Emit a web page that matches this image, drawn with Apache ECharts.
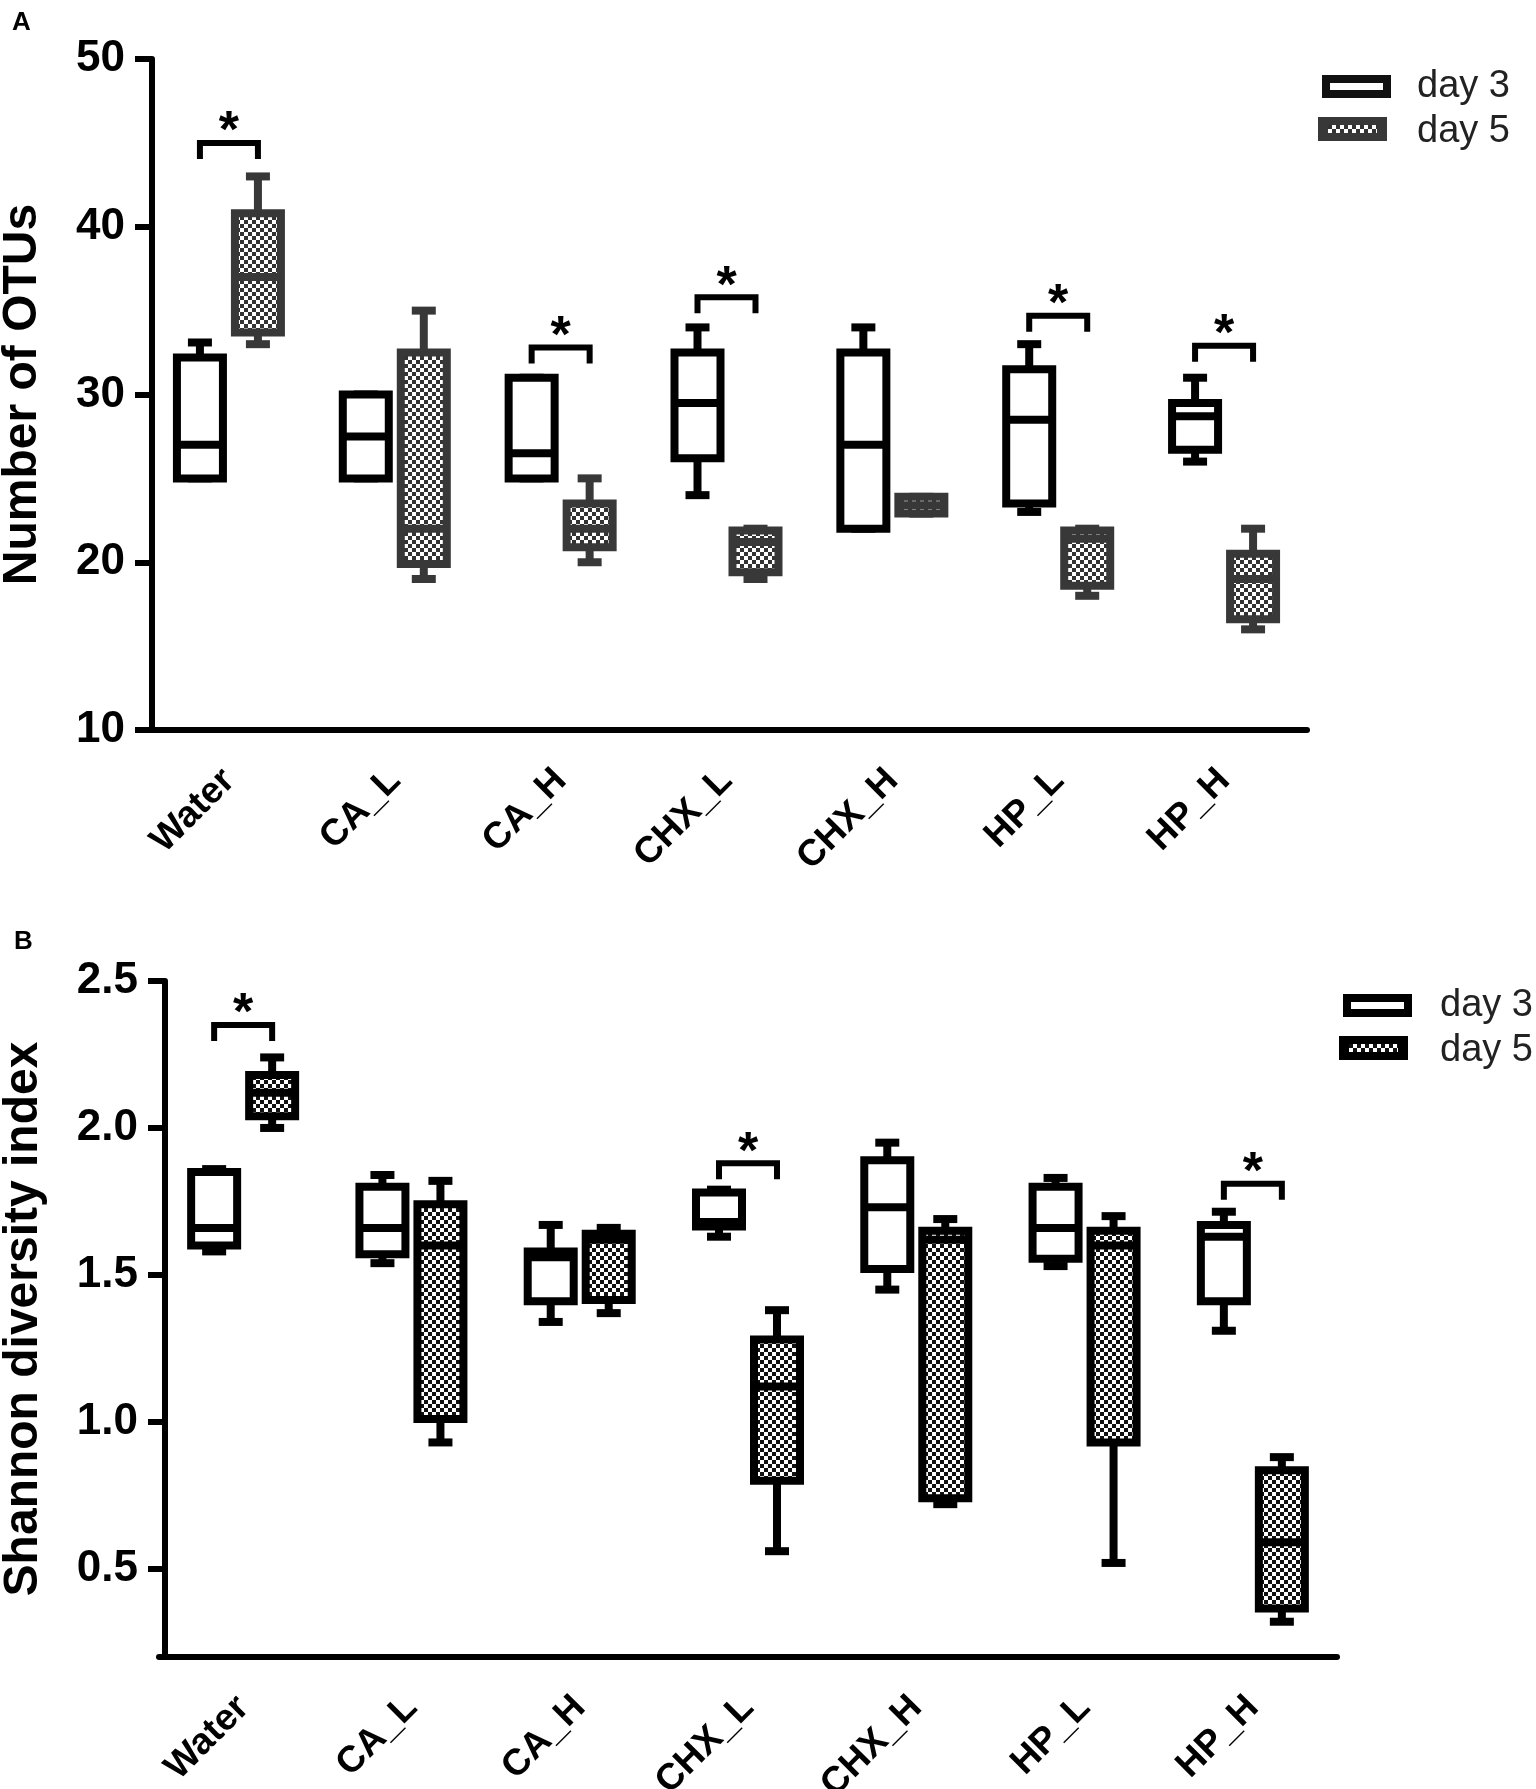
<!DOCTYPE html>
<html>
<head>
    <meta charset="UTF-8">
    <title>OTUs and Shannon index</title>
    <script type="text/javascript" src="https://cdn.jsdelivr.net/npm/echarts@6/dist/echarts.min.js"></script>
    <style>
        body { margin: 0; background: #fff; }
    </style>
</head>
<body>
<div id="main" style="width: 1536px;height:1789px;"></div>
<script type="text/javascript">
    // groups on the x axis
    var cats = ['Water', 'CA_L', 'CA_H', 'CHX_L', 'CHX_H', 'HP_L', 'HP_H'];

    // panel A, number of OTUs: [min, Q1, median, Q3, max]
    var otuDay3 = [
        [25, 25, 27, 32.2, 33.1],
        [25, 25, 27.5, 30, 30],
        [25, 25, 26.5, 31, 31],
        [24, 26.2, 29.5, 32.5, 34],
        [22, 22, 27, 32.5, 34],
        [23, 23.5, 28.5, 31.5, 33],
        [26, 26.7, 28.7, 29.5, 31]
    ];
    var otuDay5 = [
        [33, 33.7, 37, 40.8, 43],
        [19, 19.9, 22, 32.5, 35],
        [20, 20.9, 22, 23.5, 25],
        [19, 19.4, 21.2, 21.9, 22],
        [22.9, 22.9, 23.4, 23.9, 23.9],
        [18, 18.6, 21.4, 21.9, 22],
        [16, 16.6, 19, 20.5, 22]
    ];
    // significance brackets A: [group index, height]
    var otuSig = [[0, 45], [2, 32.8], [3, 35.8], [5, 34.7], [6, 32.9]];
    var otuTicks = [10, 20, 30, 40, 50];

    // panel B, Shannon diversity index
    var shDay3 = [
        [1.58, 1.6, 1.66, 1.85, 1.86],
        [1.54, 1.57, 1.66, 1.80, 1.84],
        [1.34, 1.41, 1.56, 1.58, 1.67],
        [1.63, 1.665, 1.68, 1.78, 1.79],
        [1.45, 1.52, 1.73, 1.89, 1.95],
        [1.53, 1.555, 1.66, 1.80, 1.83],
        [1.31, 1.41, 1.63, 1.67, 1.715]
    ];
    var shDay5 = [
        [2.0, 2.04, 2.12, 2.18, 2.24],
        [0.93, 1.01, 1.60, 1.74, 1.82],
        [1.37, 1.415, 1.62, 1.64, 1.66],
        [0.56, 0.8, 1.12, 1.28, 1.38],
        [0.72, 0.74, 1.62, 1.65, 1.69],
        [0.52, 0.93, 1.6, 1.65, 1.7],
        [0.32, 0.365, 0.59, 0.835, 0.88]
    ];
    var shSig = [[0, 2.35], [3, 1.88], [6, 1.81]];
    var shTicks = [0.5, 1.0, 1.5, 2.0, 2.5];

    var FONT = '"Liberation Sans", Arial, Helvetica, sans-serif';

    // checker fill used for day 5
    function checker(dark) {
        var c = document.createElement('canvas');
        c.width = 8;
        c.height = 8;
        var g = c.getContext('2d');
        g.fillStyle = '#fff';
        g.fillRect(0, 0, 8, 8);
        g.fillStyle = dark;
        g.fillRect(0, 0, 4, 4);
        g.fillRect(4, 4, 4, 4);
        return {image: c, repeat: 'repeat'};
    }
    var checkGrey = checker('#333');
    var checkBlack = checker('#111');

    function withIndex(rows) {
        return rows.map(function (r, i) { return [i].concat(r); });
    }

    // box + whiskers drawn on the axes
    function boxRender(off, stroke, fill) {
        return function (params, api) {
            var c = api.value(0);
            var y = function (d) { return api.coord([c, api.value(d)])[1]; };
            var cx = api.coord([c, api.value(3)])[0] + off;
            var hw = 23, cap = 12;
            var ls = {stroke: stroke, lineWidth: 8};
            return {
                type: 'group',
                children: [
                    {type: 'line', shape: {x1: cx, y1: y(4), x2: cx, y2: y(5)}, style: ls},
                    {type: 'line', shape: {x1: cx, y1: y(2), x2: cx, y2: y(1)}, style: ls},
                    {type: 'line', shape: {x1: cx - cap, y1: y(5), x2: cx + cap, y2: y(5)}, style: ls},
                    {type: 'line', shape: {x1: cx - cap, y1: y(1), x2: cx + cap, y2: y(1)}, style: ls},
                    {type: 'rect', shape: {x: cx - hw, y: y(4), width: hw * 2, height: y(2) - y(4)},
                        style: {fill: fill, stroke: stroke, lineWidth: 8}},
                    {type: 'line', shape: {x1: cx - hw, y1: y(3), x2: cx + hw, y2: y(3)}, style: ls}
                ]
            };
        };
    }

    // bracket with a star between the two boxes of a group
    function sigRender(params, api) {
        var p = api.coord([api.value(0), api.value(1)]);
        var x1 = p[0] - 29, x2 = p[0] + 29, yy = p[1];
        return {
            type: 'group',
            children: [
                {type: 'polyline', shape: {points: [[x1, yy + 16], [x1, yy], [x2, yy], [x2, yy + 16]]},
                    style: {stroke: '#000', lineWidth: 6, fill: null}},
                {type: 'text', x: p[0], y: yy - 10,
                    style: {text: '*', font: 'bold 52px ' + FONT, fill: '#000', align: 'center', verticalAlign: 'middle'}}
            ]
        };
    }

    function xAxisOf(gi) {
        return {
            gridIndex: gi, type: 'category', data: cats,
            axisLine: {lineStyle: {color: '#000', width: 6}},
            axisTick: {alignWithLabel: true, length: 18, lineStyle: {color: '#000', width: 6}},
            axisLabel: {interval: 0, rotate: 45, margin: 45, fontSize: 37, fontWeight: 'bold', color: '#000', fontFamily: FONT}
        };
    }

    function yAxisOf(gi, min, max, ticks, name, gap, fmt) {
        return {
            gridIndex: gi, type: 'value', min: min, max: max, offset: -6,
            name: name, nameLocation: 'middle', nameGap: gap,
            nameTextStyle: {fontSize: 48, fontWeight: 'bold', color: '#000', fontFamily: FONT},
            axisLine: {show: true, lineStyle: {color: '#000', width: 6}},
            axisTick: {show: true, length: 17, customValues: ticks, lineStyle: {color: '#000', width: 6}},
            axisLabel: {customValues: ticks, margin: 27, fontSize: 44, fontWeight: 'bold', color: '#000', fontFamily: FONT,
                formatter: fmt},
            splitLine: {show: false}
        };
    }

    function legendBits(x, y, stroke, dark, fillCheck, tx) {
        return [
            {type: 'rect', left: x, top: y, shape: {x: 0, y: 0, width: 61, height: 15},
                style: {fill: '#fff', stroke: stroke, lineWidth: 8}},
            {type: 'rect', left: x - 4, top: y + 42, shape: {x: 0, y: 0, width: 69, height: 24}, style: {fill: dark}},
            {type: 'rect', left: x + 6, top: y + 50, shape: {x: 0, y: 0, width: 49, height: 8}, style: {fill: fillCheck}},
            {type: 'text', left: tx, top: y - 7, style: {text: 'day 3', font: '38px ' + FONT, fill: '#222'}},
            {type: 'text', left: tx, top: y + 38, style: {text: 'day 5', font: '38px ' + FONT, fill: '#222'}}
        ];
    }

    var myChart = echarts.init(document.getElementById('main'));

    var option = {
        animation: false,
        backgroundColor: '#fff',
        grid: [
            {left: 146, top: 59, width: 1161, height: 671, containLabel: false, outerBoundsMode: 'none'},
            {left: 159, top: 981, width: 1178, height: 676, containLabel: false, outerBoundsMode: 'none'}
        ],
        xAxis: [xAxisOf(0), xAxisOf(1)],
        yAxis: [
            yAxisOf(0, 10, 50, otuTicks, 'Number of OTUs', 105, function (v) { return v; }),
            yAxisOf(1, 0.2, 2.5, shTicks, 'Shannon diversity index', 117, function (v) { return v.toFixed(1); })
        ],
        graphic: [
            {type: 'text', left: 12, top: 10, style: {text: 'A', font: 'bold 26px ' + FONT, fill: '#000'}},
            {type: 'text', left: 14, top: 929, style: {text: 'B', font: 'bold 26px ' + FONT, fill: '#000'}}
        ].concat(legendBits(1322, 75, '#111', '#383838', checkGrey, 1417),
            legendBits(1343, 994, '#000', '#000', checkBlack, 1440)),
        series: [
            {name: 'day 3', type: 'custom', xAxisIndex: 0, yAxisIndex: 0, renderItem: boxRender(-29, '#000', '#fff'),
                data: withIndex(otuDay3), z: 3},
            {name: 'day 5', type: 'custom', xAxisIndex: 0, yAxisIndex: 0, renderItem: boxRender(29, '#383838', checkGrey),
                data: withIndex(otuDay5), z: 3},
            {name: 'sig A', type: 'custom', xAxisIndex: 0, yAxisIndex: 0, renderItem: sigRender, data: otuSig, z: 4},
            {name: 'day 3', type: 'custom', xAxisIndex: 1, yAxisIndex: 1, renderItem: boxRender(-29, '#000', '#fff'),
                data: withIndex(shDay3), z: 3},
            {name: 'day 5', type: 'custom', xAxisIndex: 1, yAxisIndex: 1, renderItem: boxRender(29, '#000', checkBlack),
                data: withIndex(shDay5), z: 3},
            {name: 'sig B', type: 'custom', xAxisIndex: 1, yAxisIndex: 1, renderItem: sigRender, data: shSig, z: 4}
        ]
    };

    myChart.setOption(option);
</script>
</body>
</html>
